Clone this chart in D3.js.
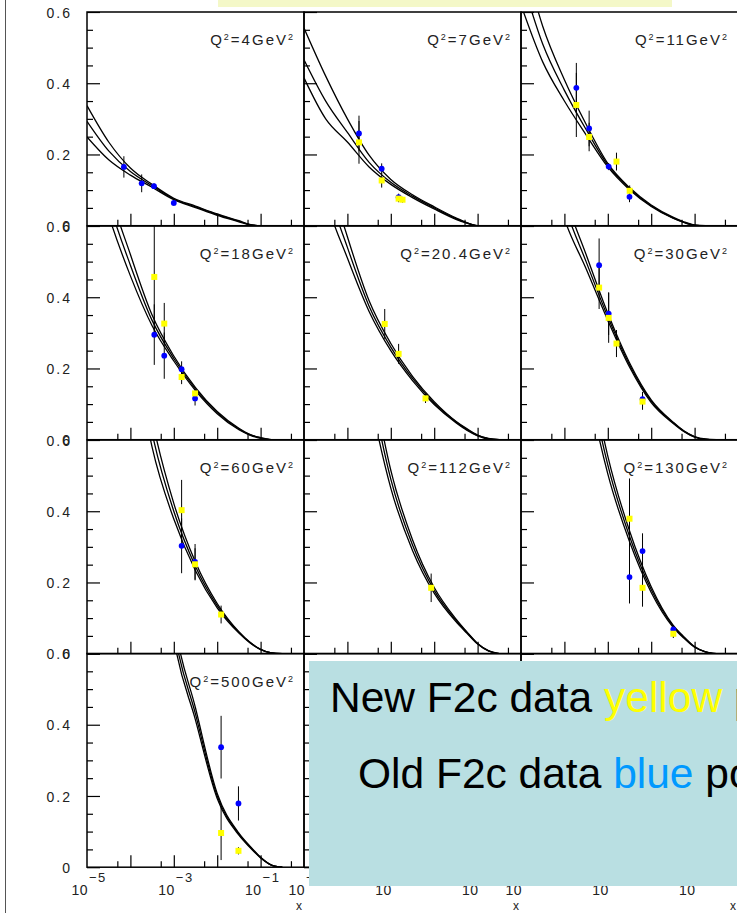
<!DOCTYPE html>
<html><head><meta charset="utf-8">
<script src="https://cdn.jsdelivr.net/npm/d3@7"></script>
<style>html,body{margin:0;padding:0;background:#fff;overflow:hidden}</style>
</head><body>
<svg id="c" width="737" height="916" style="display:block;background:#fff"></svg>
<script>
// Q^2 values of the panels (row by row)
const q2Labels = ["4","7","11","18","20.4","30","60","112","130","500"];
// log10(x) grid at which the theory curves were read
const lxGrid = [-5,-4.5,-4,-3.5,-3,-2.5,-2,-1.5,-1.25,-1,-0.75,-0.5];
// upper / middle / lower theory curves, one array per panel
const theoryHi = [
  [0.337,0.235,0.162,0.116,0.077,0.055,0.033,0.014,0.004,0,0,0],
  [0.555,0.42,0.30,0.198,0.13,0.087,0.053,0.022,0.009,0,0,0],
  [0.78,0.56,0.41,0.285,0.175,0.107,0.058,0.024,0.011,0.002,0,0],
  [1.0,0.71,0.52,0.35,0.235,0.146,0.079,0.032,0.015,0.006,0,0],
  [1.1,0.78,0.57,0.39,0.27,0.178,0.107,0.052,0.031,0.013,0.004,0],
  [1.4,0.95,0.69,0.52,0.355,0.216,0.112,0.050,0.025,0.009,0.002,0],
  [2.12,1.48,1.04,0.66,0.422,0.257,0.141,0.062,0.033,0.0125,0.002,0],
  [2.12,1.64,1.21,0.825,0.515,0.32,0.186,0.098,0.062,0.029,0.0085,0],
  [2.63,1.9,1.26,0.86,0.555,0.345,0.188,0.081,0.048,0.02,0.005,0],
  [4.16,3.12,2.08,1.25,0.697,0.447,0.207,0.096,0.06,0.028,0.006,0]
];
const theoryMid = [
  [0.293,0.210,0.152,0.112,0.075,0.053,0.031,0.0125,0.003,0,0,0],
  [0.466,0.35,0.262,0.178,0.122,0.083,0.050,0.020,0.008,0,0,0],
  [0.70,0.51,0.38,0.27,0.17,0.104,0.056,0.022,0.010,0.001,0,0],
  [0.92,0.67,0.49,0.335,0.228,0.142,0.076,0.030,0.014,0.005,0,0],
  [1.05,0.73,0.54,0.375,0.26,0.172,0.103,0.050,0.029,0.012,0.003,0],
  [1.3,0.9,0.66,0.5,0.345,0.21,0.108,0.048,0.024,0.008,0.001,0],
  [2.0,1.4,0.98,0.62,0.40,0.245,0.135,0.06,0.032,0.012,0.002,0],
  [2.0,1.55,1.15,0.78,0.49,0.305,0.178,0.094,0.06,0.028,0.008,0],
  [2.5,1.8,1.2,0.82,0.53,0.33,0.18,0.078,0.046,0.019,0.005,0],
  [4.0,3.0,2.0,1.2,0.67,0.43,0.2,0.093,0.058,0.027,0.006,0]
];
const theoryLo = [
  [0.249,0.185,0.142,0.108,0.073,0.051,0.029,0.011,0.002,0,0,0],
  [0.415,0.30,0.235,0.165,0.116,0.079,0.047,0.018,0.007,0,0,0],
  [0.62,0.46,0.35,0.255,0.165,0.101,0.054,0.021,0.009,0.001,0,0],
  [0.85,0.63,0.46,0.32,0.221,0.138,0.073,0.028,0.013,0.004,0,0],
  [0.98,0.68,0.51,0.36,0.25,0.166,0.099,0.048,0.027,0.011,0.002,0],
  [1.2,0.84,0.62,0.48,0.335,0.204,0.104,0.046,0.023,0.007,0.001,0],
  [1.88,1.32,0.92,0.58,0.378,0.233,0.129,0.058,0.031,0.0115,0.002,0],
  [1.88,1.46,1.09,0.735,0.465,0.29,0.17,0.09,0.058,0.027,0.0075,0],
  [2.37,1.7,1.14,0.78,0.505,0.315,0.172,0.075,0.044,0.018,0.005,0],
  [3.84,2.88,1.92,1.15,0.643,0.413,0.193,0.09,0.056,0.026,0.006,0]
];
// [panel, log10(x), F2c, error]
const oldPoints = [
  [0,-4.15,0.165,0.03],[0,-3.74,0.119,0.025],[0,-3.456,0.111,0.008],[0,-3.0,0.064,0.008],
  [1,-3.733,0.259,0.05],[1,-3.21,0.160,0.015],[1,-2.82,0.080,0.01],
  [2,-3.725,0.387,0.07],[2,-3.43,0.273,0.05],[2,-2.98,0.166,0.01],[2,-2.5,0.081,0.015],
  [3,-3.45,0.295,0.085],[3,-3.22,0.236,0.065],[3,-2.82,0.198,0.022],[3,-2.51,0.116,0.02],
  [5,-3.2,0.49,0.075],[5,-2.98,0.354,0.06],[5,-2.2,0.114,0.02],
  [6,-2.82,0.303,0.077],[6,-2.51,0.258,0.05],
  [8,-2.5,0.215,0.074],[8,-2.2,0.288,0.05],[8,-1.49,0.068,0.012],
  [9,-1.91,0.337,0.088],[9,-1.51,0.179,0.048]
];
const newPoints = [
  [1,-3.733,0.234,0.06],[1,-3.21,0.127,0.02],[1,-2.82,0.076,0.01],[1,-2.73,0.073,0.008],
  [2,-3.725,0.339,0.09],[2,-3.43,0.249,0.04],[2,-2.80,0.18,0.025],[2,-2.496,0.098,0.015],
  [3,-3.45,0.457,0.17],[3,-3.22,0.326,0.058],[3,-2.82,0.176,0.02],[3,-2.51,0.130,0.012],
  [4,-3.14,0.325,0.042],[4,-2.82,0.241,0.028],[4,-2.2,0.116,0.013],
  [5,-3.2,0.427,0.06],[5,-2.98,0.342,0.07],[5,-2.8,0.27,0.038],[5,-2.2,0.107,0.023],
  [6,-2.82,0.403,0.085],[6,-2.51,0.251,0.045],[6,-1.91,0.110,0.025],
  [7,-2.07,0.185,0.04],
  [8,-2.5,0.379,0.113],[8,-2.2,0.185,0.053],[8,-1.49,0.056,0.012],
  [9,-1.91,0.096,0.076],[9,-1.51,0.046,0.01]
];
const yMajorTicks = [0,0.2,0.4,0.6];
const yMinorTicks = [0.05,0.1,0.15,0.25,0.3,0.35,0.45,0.5,0.55];
const xMajorTicks = [1e-4,1e-3,1e-2,1e-1];
const xMinorTicks = [5e-5,5e-4,5e-3,5e-2,5e-1];
const xLabelExps = [-5,-3,-1];
const legendLines = [
  ["New F2c data ","yellow"," points"],
  ["Old F2c data ","blue"," points"]
];
const legendColors = ["#ffff00","#0099ff"];

const FONT = "'Liberation Sans', Arial, Helvetica, sans-serif";
const svg = d3.select("#c");
svg.append("rect").attr("width",737).attr("height",916).attr("fill","#fff");
const defs = svg.append("defs");

const W = 217, H = 213.7;
const colX = [87,304,521], rowY = [12,226,440,653.5];
const x = d3.scaleLog().domain([1e-5,1]).range([0,W]);
const y = d3.scaleLinear().domain([0,0.6]).range([H,0]);
const line = d3.line().x(d=>x(d[0])).y(d=>y(d[1])).curve(d3.curveMonotoneX);

// outer slide frame line
svg.append("line").attr("x1",5.5).attr("x2",5.5).attr("y1",0).attr("y2",913)
  .attr("stroke","#555").attr("stroke-width",1);
// top pale yellow box
svg.append("rect").attr("x",218).attr("y",0).attr("width",454).attr("height",7).attr("fill","#f4f8c8");

for (let r=0;r<4;r++) for (let c=0;c<3;c++){
  const i = r*3+c;
  const g = svg.append("g").attr("transform",`translate(${colX[c]},${rowY[r]})`);
  defs.append("clipPath").attr("id","clip"+i).append("rect").attr("width",W).attr("height",H);

  const ya = g.append("g").call(d3.axisLeft(y).tickValues(yMajorTicks).tickSize(-13).tickPadding(15)
      .tickFormat(d=> c>0 ? "" : (d===0 ? "0" : d3.format(".1f")(d))));
  const ym = g.append("g").call(d3.axisLeft(y).tickValues(yMinorTicks).tickSize(-6).tickFormat(""));
  const xa = g.append("g").attr("transform",`translate(0,${H})`)
      .call(d3.axisBottom(x).tickValues(xMajorTicks).tickSize(-12).tickFormat(""));
  const xm = g.append("g").attr("transform",`translate(0,${H})`)
      .call(d3.axisBottom(x).tickValues(xMinorTicks).tickSize(-6).tickFormat(""));
  [ya,ym,xa,xm].forEach(a=>{
    a.select(".domain").remove();
    a.selectAll(".tick line").attr("stroke","#000").attr("stroke-width",1.2);
  });
  ya.selectAll(".tick text").attr("font-family",FONT).attr("font-size",14)
    .attr("letter-spacing","2px").attr("fill","#222").attr("dy","0.36em");

  if (i < q2Labels.length){
    const t = g.append("text").attr("x",W-9).attr("y",33).attr("text-anchor","end")
      .attr("font-family",FONT).attr("font-size",15).attr("fill","#222").attr("letter-spacing","2px");
    t.append("tspan").text("Q");
    t.append("tspan").attr("dy",-5).attr("font-size",9).text("2");
    t.append("tspan").attr("dy",5).text("=" + q2Labels[i] + "GeV");
    t.append("tspan").attr("dy",-5).attr("font-size",9).text("2");

    const pg = g.append("g").attr("clip-path",`url(#clip${i})`);
    [theoryHi[i],theoryMid[i],theoryLo[i]].forEach(arr=>{
      const pts = lxGrid.map((lx,k)=>[Math.pow(10,lx),arr[k]]);
      pg.append("path").attr("d",line(pts)).attr("fill","none").attr("stroke","#000").attr("stroke-width",1.3);
    });
    const od = oldPoints.filter(p=>p[0]===i), nd = newPoints.filter(p=>p[0]===i);
    od.concat(nd).forEach(p=>{
      pg.append("line").attr("x1",x(Math.pow(10,p[1]))).attr("x2",x(Math.pow(10,p[1])))
        .attr("y1",y(p[2]-p[3])).attr("y2",y(p[2]+p[3])).attr("stroke","#000").attr("stroke-width",1);
    });
    od.forEach(p=>{
      pg.append("circle").attr("cx",x(Math.pow(10,p[1]))).attr("cy",y(p[2])).attr("r",2.9).attr("fill","#0000ff");
    });
    nd.forEach(p=>{
      pg.append("rect").attr("x",x(Math.pow(10,p[1]))-3).attr("y",y(p[2])-3)
        .attr("width",6).attr("height",6).attr("fill","#ffff00");
    });
  }

  // frame
  g.append("rect").attr("width",W).attr("height",H).attr("fill","none").attr("stroke","#000").attr("stroke-width",1.5);

  if (r===3){
    xLabelExps.forEach(e=>{
      const xp = x(Math.pow(10,e));
      g.append("text").attr("x",xp+1).attr("y",H+28).attr("text-anchor","end")
        .attr("font-family",FONT).attr("font-size",14).attr("fill","#222").attr("letter-spacing","0.5px").text("10");
      g.append("text").attr("x",xp+2).attr("y",H+15)
        .attr("font-family",FONT).attr("font-size",13).attr("fill","#222").attr("letter-spacing","1.5px").text("\u2212"+Math.abs(e));
    });
    g.append("text").attr("x",W-2).attr("y",H+43).attr("text-anchor","end")
      .attr("font-family",FONT).attr("font-size",12).attr("fill","#222").text("x");
  }
}

// legend box
const lb = svg.append("g");
lb.append("rect").attr("x",309).attr("y",661).attr("width",440).attr("height",225).attr("fill","#b9dfe2");
const lpos = [[330,712],[358,788]];
legendLines.forEach((parts,k)=>{
  const t = lb.append("text").attr("x",lpos[k][0]).attr("y",lpos[k][1])
    .attr("font-family",FONT).attr("font-size",42.5).attr("fill","#000");
  t.append("tspan").text(parts[0]);
  t.append("tspan").attr("fill",legendColors[k]).text(parts[1]);
  t.append("tspan").text(parts[2]);
});
</script>
</body></html>
